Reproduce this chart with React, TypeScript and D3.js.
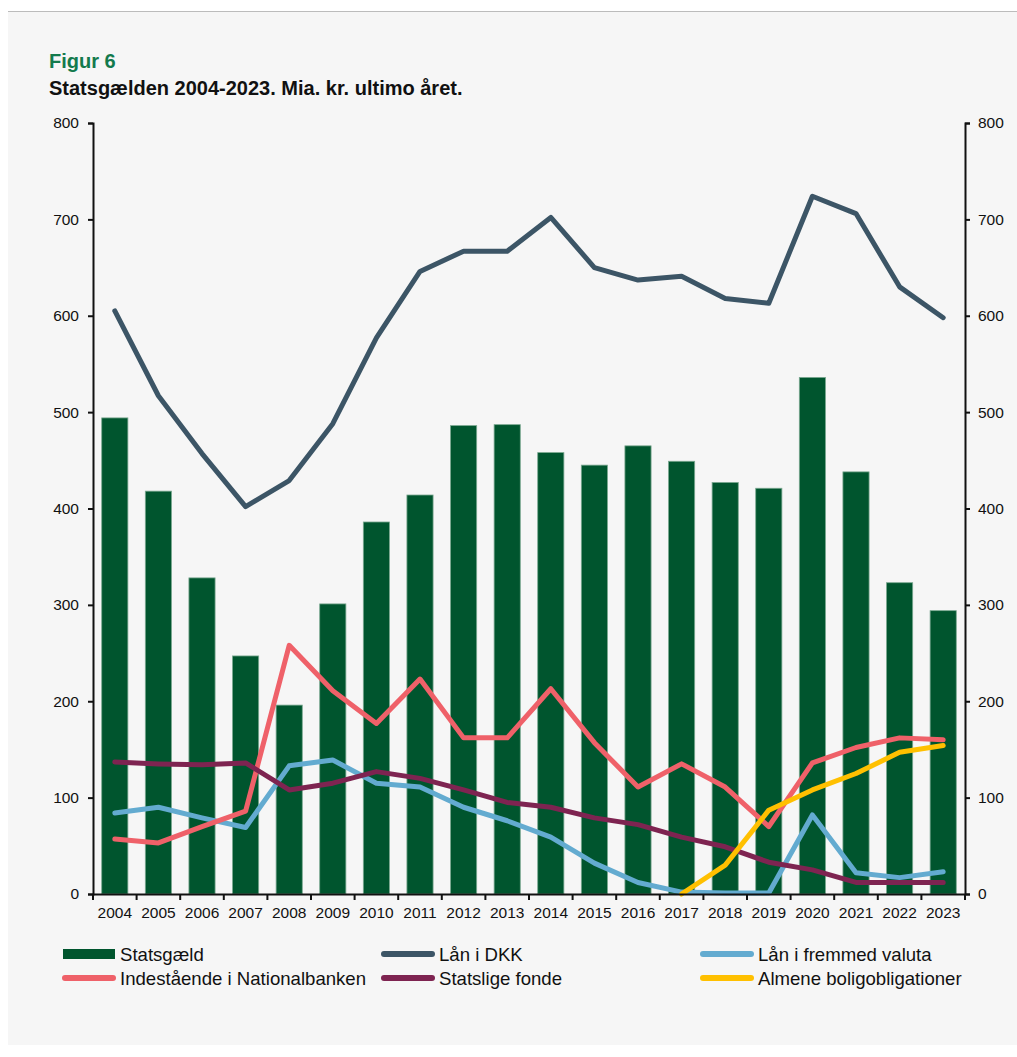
import * as d3 from "d3";
import { useEffect, useRef } from "react";

const years = ["2004","2005","2006","2007","2008","2009","2010","2011","2012","2013","2014","2015","2016","2017","2018","2019","2020","2021","2022","2023"];
const statsgaeld = [494, 418, 328, 247, 196, 301, 386, 414, 486, 487, 458, 445, 465, 449, 427, 421, 536, 438, 323, 294];
const laanDKK = [605, 517, 457, 402, 429, 488, 577, 646, 667, 667, 702, 650, 637, 641, 618, 613, 724, 706, 630, 598];
const laanValuta = [84, 90, 79, 69, 133, 139, 115, 111, 90, 76, 59, 32, 12, 2, 1, 1, 82, 22, 17, 23];
const indestaaende = [57, 53, 70, 86, 258, 211, 177, 223, 162, 162, 213, 157, 111, 135, 111, 70, 136, 152, 162, 160];
const statsligeFonde = [137, 135, 134, 136, 108, 115, 127, 120, 108, 95, 90, 79, 72, 59, 49, 33, 25, 12, 12, 12];
const almene = [null, null, null, null, null, null, null, null, null, null, null, null, null, 0, 30, 87, 108, 125, 147, 154];
const yTicks = [0, 100, 200, 300, 400, 500, 600, 700, 800];

const W = 1017, H = 1057;
const left = 93, right = 965, top = 123, bottom = 894;
const font = "Liberation Sans, Arial, sans-serif";

const lineSeries = [
  { name: "Lån i DKK", values: laanDKK, color: "#3c5566" },
  { name: "Lån i fremmed valuta", values: laanValuta, color: "#63abd0" },
  { name: "Indestående i Nationalbanken", values: indestaaende, color: "#ef6169" },
  { name: "Statslige fonde", values: statsligeFonde, color: "#7e2451" },
  { name: "Almene boligobligationer", values: almene, color: "#ffc000" },
];

export default function App() {
  const leftRef = useRef<SVGGElement>(null);
  const rightRef = useRef<SVGGElement>(null);
  const bottomRef = useRef<SVGGElement>(null);

  const x = d3.scaleBand<string>().domain(years).range([left, right]).padding(0);
  const y = d3.scaleLinear().domain([0, 800]).range([bottom, top]);
  const bw = x.bandwidth() * 0.6;
  const cx = (yr: string) => (x(yr) as number) + x.bandwidth() / 2;

  useEffect(() => {
    const styleAxis = (g: d3.Selection<SVGGElement, unknown, null, undefined>) => {
      g.attr("font-family", font).attr("font-size", 15.5);
      g.select(".domain").attr("stroke", "#111").attr("stroke-width", 2);
      g.selectAll(".tick line").attr("stroke", "#111").attr("stroke-width", 2);
      g.selectAll(".tick text").attr("fill", "#111");
    };
    const l = d3.select(leftRef.current!);
    l.selectAll("*").remove();
    l.call(d3.axisLeft(y).tickValues(yTicks).tickSize(5).tickSizeOuter(5).tickPadding(9)).call(styleAxis);

    const r = d3.select(rightRef.current!);
    r.selectAll("*").remove();
    r.call(d3.axisRight(y).tickValues(yTicks).tickSize(5).tickSizeOuter(5).tickPadding(8)).call(styleAxis);

    const b = d3.select(bottomRef.current!);
    b.selectAll("*").remove();
    b.call(d3.axisBottom(x).tickSize(0).tickSizeOuter(0).tickPadding(13)).call(styleAxis);
  }, []);

  const line = d3.line<number | null>()
    .defined((d) => d !== null)
    .x((_, i) => cx(years[i]))
    .y((d) => y(d as number));

  const boundaries = years.map((yr) => x(yr) as number).concat([right]);

  const legend = [
    { name: "Statsgæld", type: "bar", color: "#00552e", col: 0, row: 0 },
    { name: lineSeries[0].name, type: "line", color: lineSeries[0].color, col: 1, row: 0 },
    { name: lineSeries[1].name, type: "line", color: lineSeries[1].color, col: 2, row: 0 },
    { name: lineSeries[2].name, type: "line", color: lineSeries[2].color, col: 0, row: 1 },
    { name: lineSeries[3].name, type: "line", color: lineSeries[3].color, col: 1, row: 1 },
    { name: lineSeries[4].name, type: "line", color: lineSeries[4].color, col: 2, row: 1 },
  ];
  const colX = [62, 381, 700];
  const rowY = [954, 978];

  return (
    <svg width={W} height={H} style={{ position: "absolute", left: 0, top: 0 }} fontFamily={font}>
      <rect x={8} y={12} width={W - 8} height={1033} fill="#f6f6f6" />
      <line x1={8} x2={W} y1={11.5} y2={11.5} stroke="#bcbcbc" strokeWidth={1} />
      <text x={49} y={68} fontSize={20} fontWeight="bold" fill="#137a4d">Figur 6</text>
      <text x={49} y={95} fontSize={20} fontWeight="bold" fill="#111">Statsgælden 2004-2023. Mia. kr. ultimo året.</text>

      {statsgaeld.map((v, i) => (
        <rect key={years[i]} x={cx(years[i]) - bw / 2} y={y(v)} width={bw} height={y(0) - y(v)}
          fill="#00552e" stroke="#7aa890" strokeWidth={0.8} />
      ))}

      {lineSeries.map((s) => (
        <path key={s.name} d={line(s.values) || ""} fill="none" stroke={s.color} strokeWidth={5}
          strokeLinejoin="round" strokeLinecap="round" />
      ))}

      <g ref={leftRef} transform={`translate(${left},0)`} />
      <g ref={rightRef} transform={`translate(${right},0)`} />
      <g ref={bottomRef} transform={`translate(0,${bottom})`} />
      {boundaries.map((bx, i) => (
        <line key={i} x1={bx} x2={bx} y1={bottom} y2={bottom + 6} stroke="#111" strokeWidth={2} />
      ))}

      {legend.map((e) => (
        <g key={e.name} transform={`translate(${colX[e.col]},${rowY[e.row]})`}>
          {e.type === "bar"
            ? <rect x={1} y={-5} width={52} height={10} fill={e.color} />
            : <line x1={3} x2={51} y1={0} y2={0} stroke={e.color} strokeWidth={6} strokeLinecap="round" />}
          <text x={58} y={6.5} fontSize={18.6} fill="#111">{e.name}</text>
        </g>
      ))}
    </svg>
  );
}
